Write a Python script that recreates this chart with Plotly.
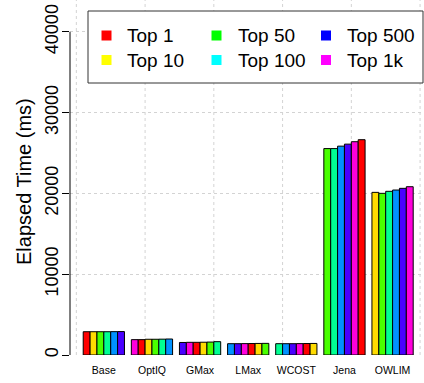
import plotly.graph_objects as go

# Query engines and result-size settings
engines = ["Base", "OptIQ", "GMax", "LMax", "WCOST", "Jena", "OWLIM"]
series = ["Top 1", "Top 10", "Top 50", "Top 100", "Top 500", "Top 1k"]

# Elapsed time (ms) per engine, one list per result size
top1 = [2880, 1900, 1550, 1400, 1400, 25550, 20130]
top10 = [2880, 1900, 1570, 1400, 1400, 25550, 20010]
top50 = [2880, 1950, 1570, 1410, 1400, 25850, 20260]
top100 = [2880, 1950, 1580, 1420, 1410, 26100, 20420]
top500 = [2890, 1960, 1600, 1430, 1420, 26400, 20630]
top1k = [2900, 1980, 1650, 1440, 1430, 26650, 20830]
values = [top1, top10, top50, top100, top500, top1k]

y_ticks = [0, 10000, 20000, 30000, 40000]

# bar fill cycles through a 7-colour rainbow across all bars
rainbow7 = ["#FF0000", "#FFDB00", "#49FF00", "#00FF92", "#0092FF", "#4900FF", "#FF00DB"]
# legend swatches
legend_colors = ["#FF0000", "#FFFF00", "#00FF00", "#00FFFF", "#0000FF", "#FF00FF"]

FONT = "Liberation Sans, Arial, Helvetica, sans-serif"
n_series = len(series)

fig = go.Figure()
for s, (name, vals) in enumerate(zip(series, values)):
    cols = [rainbow7[(g * n_series + s) % 7] for g in range(len(engines))]
    fig.add_trace(go.Bar(
        x=engines, y=vals, name=name, showlegend=False,
        marker=dict(color=cols, line=dict(color="black", width=1)),
    ))

W, H = 424, 383
ML, MR, MT, MB = 70, 0, 0, 28
pw, ph = W - ML - MR, H - MT - MB

def px_x(p):
    return (p - ML) / pw

def px_y(p):
    return (H - MB - p) / ph

shapes = []
# vertical dotted grid (every 10 bar-widths, one group = 7 bar-widths)
for k in range(6):
    cx = (10 * k - 4) / 7
    shapes.append(dict(type="line", xref="x", yref="paper", x0=cx, x1=cx, y0=0, y1=1,
                       line=dict(color="#D3D3D3", width=1, dash="dot"), layer="below"))
# y axis line spanning the tick range only
shapes.append(dict(type="line", xref="paper", yref="y", x0=0, x1=0, y0=0, y1=40000,
                   line=dict(color="black", width=1)))
# legend box
shapes.append(dict(type="rect", xref="paper", yref="paper",
                   x0=px_x(88), x1=px_x(423), y0=px_y(83), y1=px_y(11),
                   fillcolor="white", line=dict(color="#333333", width=1)))

annotations = []
col_sq = [106.5, 216.5, 326]
col_tx = [125, 235.5, 345]
row_y = [35.5, 60]
for i, name in enumerate(series):
    c, r = i // 2, i % 2
    cx, cy = col_sq[c], row_y[r]
    shapes.append(dict(type="rect", xref="paper", yref="paper",
                       x0=px_x(cx - 5), x1=px_x(cx + 5), y0=px_y(cy + 5), y1=px_y(cy - 5),
                       fillcolor=legend_colors[i], line=dict(width=0)))
    annotations.append(dict(text=name, xref="paper", yref="paper", x=px_x(col_tx[c]),
                            y=px_y(cy), xanchor="left", yanchor="middle", showarrow=False,
                            font=dict(size=19, color="black", family=FONT)))

annotations.append(dict(text="Elapsed Time (ms)", xref="paper", yref="paper",
                        x=px_x(24), y=px_y(182), textangle=-90, showarrow=False,
                        xanchor="center", yanchor="middle",
                        font=dict(size=20, color="black", family=FONT)))

fig.update_layout(
    width=W, height=H,
    margin=dict(l=ML, r=MR, t=MT, b=MB, autoexpand=False),
    paper_bgcolor="white", plot_bgcolor="white",
    barmode="group", bargap=1 / 7, bargroupgap=0,
    font=dict(family=FONT, color="black"),
    shapes=shapes, annotations=annotations,
    xaxis=dict(range=[-0.703, 6.653], showgrid=False, zeroline=False, showline=False,
               ticks="outside", ticklen=5, tickcolor="rgba(0,0,0,0)",
               tickfont=dict(size=10.5), automargin=False),
    yaxis=dict(range=[0, 43940], tickvals=y_ticks, ticktext=[str(v) for v in y_ticks],
               tickangle=-90, tickfont=dict(size=18), ticks="outside", ticklen=7,
               tickcolor="black", ticklabelstandoff=-3,
               showgrid=True, gridcolor="#D3D3D3", griddash="dot",
               zeroline=False, showline=False, automargin=False),
)

fig.write_html("out.html")
